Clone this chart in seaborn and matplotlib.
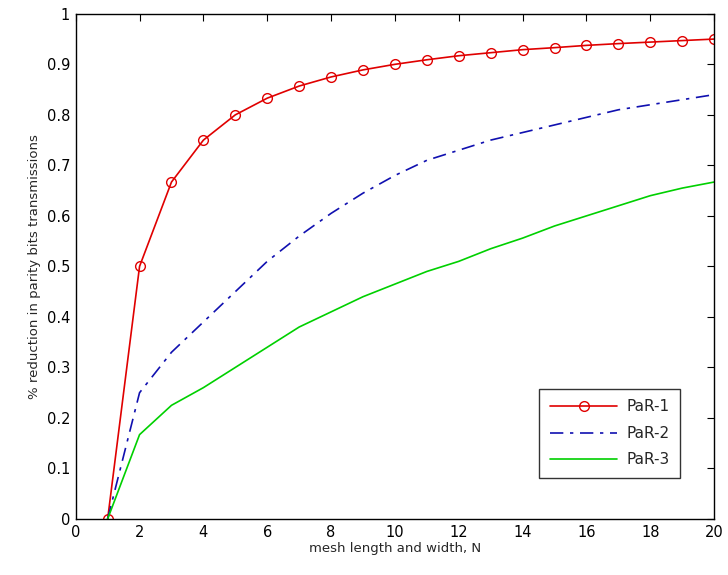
import numpy as np
import pandas as pd
import matplotlib
matplotlib.use("Agg")
import matplotlib.pyplot as plt
import seaborn as sns

N = list(range(1, 21))
par1 = [0, 0.5, 0.667, 0.75, 0.8, 0.833, 0.857, 0.875, 0.889, 0.9,
        0.909, 0.917, 0.923, 0.929, 0.933, 0.9375, 0.941, 0.944, 0.947, 0.95]
par2 = [0, 0.25, 0.33, 0.39, 0.45, 0.51, 0.56, 0.605, 0.645, 0.68,
        0.71, 0.73, 0.75, 0.765, 0.78, 0.795, 0.81, 0.82, 0.83, 0.84]
par3 = [0, 0.167, 0.225, 0.26, 0.30, 0.34, 0.38, 0.41, 0.44, 0.465,
        0.49, 0.51, 0.535, 0.556, 0.58, 0.60, 0.62, 0.64, 0.655, 0.667]
labels = ["PaR-1", "PaR-2", "PaR-3"]
xticks = list(range(0, 21, 2))
yticks = [0, 0.1, 0.2, 0.3, 0.4, 0.5, 0.6, 0.7, 0.8, 0.9, 1]
ytick_labels = ["0", "0.1", "0.2", "0.3", "0.4", "0.5", "0.6", "0.7", "0.8", "0.9", "1"]

sns.set_style("white")
plt.rcParams['font.family'] = ['DejaVu Sans']

fig = plt.figure(figsize=(7.28, 5.75), dpi=100)
ax = fig.add_axes([0.104, 0.0974, 0.877, 0.8786])

df1 = pd.DataFrame({"N": N, "v": par1})
df2 = pd.DataFrame({"N": N, "v": par2})
df3 = pd.DataFrame({"N": N, "v": par3})

sns.lineplot(data=df1, x="N", y="v", ax=ax, color="#e00000", lw=1.2,
             marker="o", markersize=7, markerfacecolor="none",
             markeredgecolor="#e00000", markeredgewidth=1.0, label=labels[0])
sns.lineplot(data=df2, x="N", y="v", ax=ax, color="#1010b0", lw=1.2,
             linestyle="-.", label=labels[1])
ax.lines[-1].set_dashes([8, 4, 2, 4])
sns.lineplot(data=df3, x="N", y="v", ax=ax, color="#00d000", lw=1.2,
             label=labels[2])

ax.set_xlim(0, 20)
ax.set_ylim(0, 1)
ax.set_xticks(xticks)
ax.set_yticks(yticks)
ax.set_yticklabels(ytick_labels)
ax.tick_params(direction="in", length=5, width=0.8, top=True, right=True,
               labelsize=10.5, colors="black", pad=4)
for s in ax.spines.values():
    s.set_visible(True)
    s.set_color("black")
    s.set_linewidth(1.0)
ax.set_xlabel("mesh length and width, N", fontsize=9.5, labelpad=2)
ax.set_ylabel("% reduction in parity bits transmissions", fontsize=9.5, labelpad=4)

leg = ax.legend(loc="lower right", bbox_to_anchor=(0.947, 0.081), fontsize=11,
                frameon=True, fancybox=False, edgecolor="black",
                handlelength=4.4, handletextpad=0.6, borderpad=0.7,
                labelspacing=0.75, borderaxespad=0)
leg.get_frame().set_linewidth(1.0)

fig.savefig("out.png", dpi=100)
